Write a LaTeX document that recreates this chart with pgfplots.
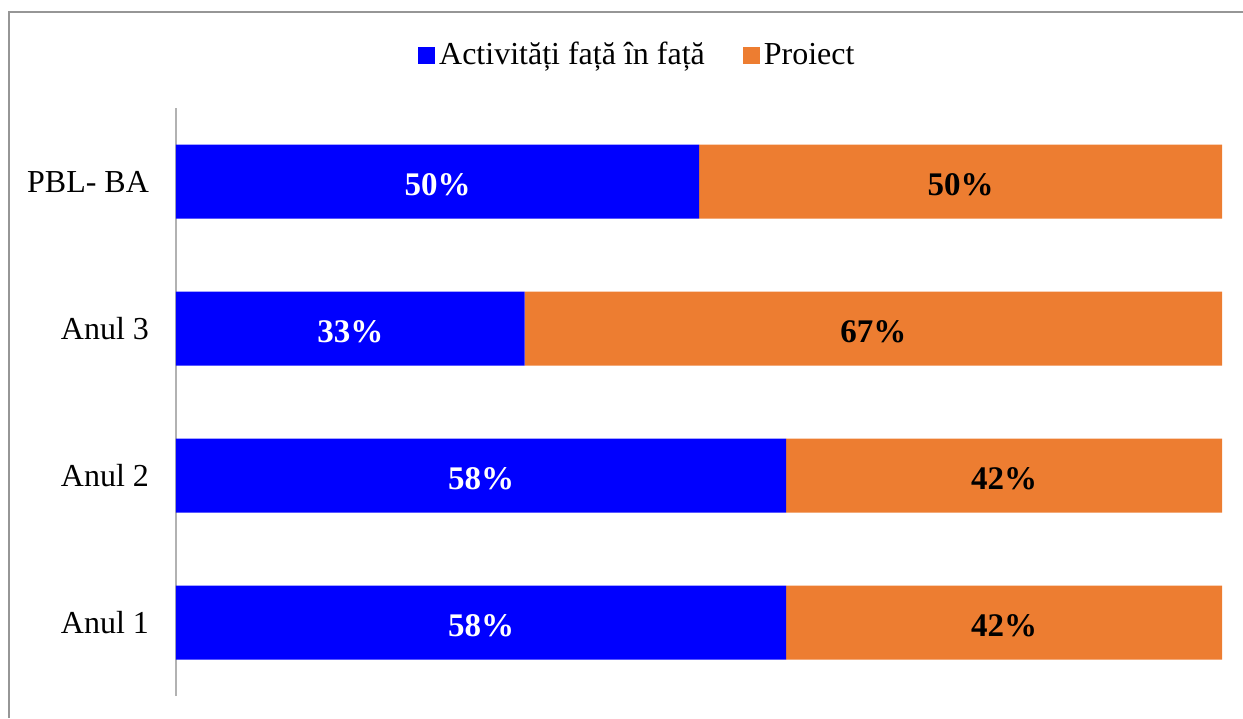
\documentclass[border=0pt]{standalone}
\usepackage{pgfplots}
\pgfplotsset{compat=1.18}
\usepackage{fontspec}
\setmainfont{Liberation Serif}
\definecolor{cblue}{RGB}{0,0,255}
\definecolor{corange}{RGB}{237,125,49}
\definecolor{framegray}{RGB}{150,150,150}
\definecolor{axgray}{RGB}{178,178,178}
\pgfplotsset{sqlegend/.style={legend image code/.code={\fill[##1] (-1pt,-4.25pt) rectangle (7.5pt,4.25pt);}}}
\begin{document}
\begin{tikzpicture}
\path[use as bounding box] (0,0) rectangle (621.5pt,359pt);
\draw[framegray, line width=1pt] (4.5pt,0) -- (4.5pt,353pt) -- (621.5pt,353pt);
\begin{axis}[
  at={(88pt,11pt)}, anchor=south west,
  scale only axis, width=523pt, height=294pt,
  xbar stacked, bar width=37pt,
  xmin=0, xmax=100, ymin=-0.5, ymax=3.5,
  axis x line=none, axis y line*=left,
  axis line style={axgray, line width=1pt},
  ytick={0,1,2,3},
  yticklabels={Anul 1, Anul 2, Anul 3, PBL- BA},
  major tick length=0pt,
  yticklabel style={font=\fontsize{16}{19}\selectfont, xshift=-10pt},
  legend style={at={(0.442,1.09)}, anchor=center, draw=none, legend columns=2,
    font=\fontsize{16}{19}\selectfont,
    /tikz/every even column/.append style={column sep=17pt}},
]
\addplot[fill=cblue, draw=none, sqlegend] coordinates {(58.33,0) (58.33,1) (33.33,2) (50,3)};
\addplot[fill=corange, draw=none, sqlegend] coordinates {(41.67,0) (41.67,1) (66.67,2) (50,3)};
\legend{Activități față în față, Proiect}
\end{axis}
\begin{axis}[
  at={(88pt,11pt)}, anchor=south west,
  scale only axis, width=523pt, height=294pt,
  xmin=0, xmax=100, ymin=-0.5, ymax=3.5, hide axis,
  point meta=explicit,
  /pgf/number format/assume math mode=true,
  nodes near coords={\pgfmathprintnumber{\pgfplotspointmeta}\%},
  nodes near coords align={center},
  every node near coord/.append style={font=\fontsize{16.5}{19}\selectfont\bfseries, anchor=center, yshift=-1.5pt},
]
\addplot[draw=none, mark=none, every node near coord/.append style={text=white}] table[x=x, y=y, meta=m] {
x y m
29.17 0 58
29.17 1 58
16.67 2 33
25 3 50
};
\addplot[draw=none, mark=none, every node near coord/.append style={text=black}] table[x=x, y=y, meta=m] {
x y m
79.17 0 42
79.17 1 42
66.67 2 67
75 3 50
};
\end{axis}
\end{tikzpicture}
\end{document}
